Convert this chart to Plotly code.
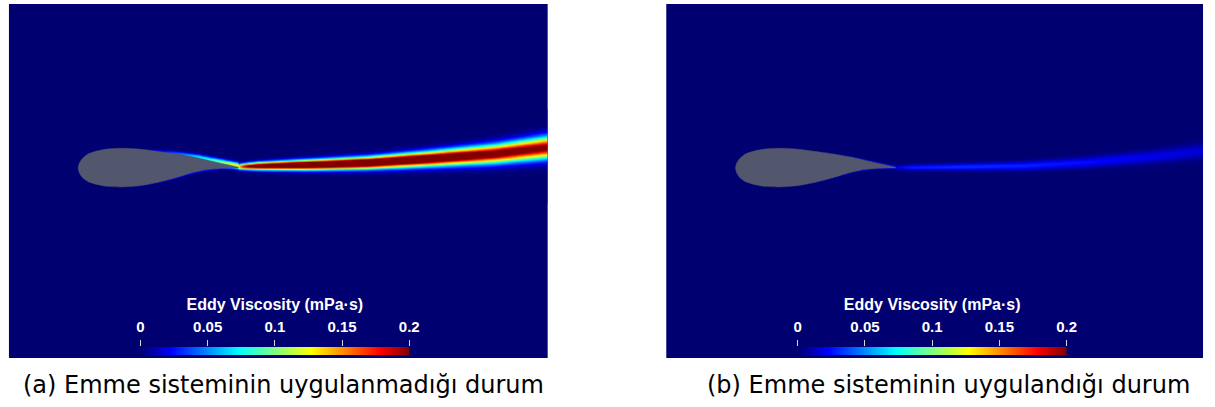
import numpy as np
import plotly.graph_objects as go

W, H = 1215, 407

# ---------------- data (chord units) ----------------
upper_x = [0.0, 0.01, 0.03, 0.06, 0.11, 0.18, 0.28, 0.38, 0.50, 0.62, 0.74, 0.86, 1.0]
upper_y = [0.0, 0.035, 0.062, 0.085, 0.103, 0.117, 0.122, 0.117, 0.102, 0.085, 0.064, 0.036, 0.004]
lower_x = [0.0, 0.01, 0.03, 0.06, 0.11, 0.18, 0.28, 0.38, 0.50, 0.60, 0.70, 0.80, 0.90, 1.0]
lower_y = [0.0, -0.035, -0.062, -0.083, -0.100, -0.113, -0.117, -0.110, -0.088, -0.062, -0.032, -0.010, -0.001, 0.002]

# panel (a): without suction -- wake (x station, centre, width, peak value in mPa·s)
wake_a_x = [1.00, 1.04, 1.12, 1.40, 1.80, 2.20, 2.60, 2.95]
wake_a_yc = [0.008, 0.010, 0.013, 0.019, 0.032, 0.058, 0.088, 0.130]
wake_a_w = [0.017, 0.019, 0.022, 0.028, 0.034, 0.043, 0.054, 0.065]
wake_a_peak = [0.14, 0.19, 0.24, 0.28, 0.28, 0.25, 0.22, 0.205]
# panel (a): boundary layers on upper / lower surface
blu_a_x = [0.40, 0.55, 0.70, 0.85, 0.95, 1.00]
blu_a_off = [0.0, 0.003, 0.005, 0.007, 0.008, 0.008]
blu_a_w = [0.007, 0.011, 0.015, 0.018, 0.019, 0.019]
blu_a_peak = [0.0, 0.03, 0.06, 0.09, 0.12, 0.14]
bll_a_x = [0.30, 0.60, 0.90, 1.00]
bll_a_off = [0.0, 0.0, 0.0, 0.0]
bll_a_w = [0.005, 0.006, 0.008, 0.010]
bll_a_peak = [0.0, 0.02, 0.03, 0.06]

# panel (b): with suction
wake_b_x = [1.00, 1.10, 1.40, 1.80, 2.20, 2.60, 2.95]
wake_b_yc = [0.002, 0.004, 0.007, 0.014, 0.036, 0.070, 0.110]
wake_b_w = [0.011, 0.016, 0.020, 0.025, 0.031, 0.038, 0.045]
wake_b_peak = [0.020, 0.028, 0.031, 0.029, 0.024, 0.019, 0.016]
blu_b_x = [0.50, 0.75, 0.95, 1.00]
blu_b_off = [0.0, 0.001, 0.002, 0.002]
blu_b_w = [0.005, 0.007, 0.009, 0.010]
blu_b_peak = [0.0, 0.008, 0.015, 0.02]
bll_b_x = [0.40, 0.70, 0.95, 1.00]
bll_b_off = [0.0, 0.0, 0.0, 0.0]
bll_b_w = [0.005, 0.006, 0.008, 0.010]
bll_b_peak = [0.0, 0.012, 0.018, 0.02]

cb_ticks = [0, 0.05, 0.1, 0.15, 0.2]
cb_labels = ["0", "0.05", "0.1", "0.15", "0.2"]
cb_title = "Eddy Viscosity (mPa·s)"
captions = ["(a) Emme sisteminin uygulanmadığı durum", "(b) Emme sisteminin uygulandığı durum"]

# ---------------- styling ----------------
NAVY = "rgb(0,0,112)"
jet = [[0.0, NAVY], [0.111, "rgb(0,0,255)"], [0.365, "rgb(0,255,255)"],
       [0.5, "rgb(128,255,128)"], [0.635, "rgb(255,255,0)"], [0.889, "rgb(255,0,0)"],
       [1.0, "rgb(128,0,0)"]]
FOIL = "#52576E"
CBFONT = "Liberation Sans, Arial"

gx = np.linspace(0.25, 2.96, 380)
gy = np.linspace(-0.22, 0.36, 310)
X, Y = np.meshgrid(gx, gy)


def up_surf(x):
    return np.interp(x, upper_x, upper_y)


def lo_surf(x):
    return np.interp(x, lower_x, lower_y)


def layer(xs, w, pk, yc=None, surf=None, off=None):
    xs = np.asarray(xs, float)
    inside = (X >= xs[0]) & (X <= xs[-1])
    if surf is None:
        c = np.interp(X, xs, yc)
    else:
        c = surf(X) + np.interp(X, xs, off)
    s = np.interp(X, xs, w)
    p = np.interp(X, xs, pk)
    return np.where(inside, p * np.exp(-((Y - c) / s) ** 2), 0.0)


Za = layer(wake_a_x, wake_a_w, wake_a_peak, yc=wake_a_yc)
Za = np.maximum(Za, layer(blu_a_x, blu_a_w, blu_a_peak, surf=up_surf, off=blu_a_off))
Za = np.maximum(Za, layer(bll_a_x, bll_a_w, bll_a_peak, surf=lo_surf, off=bll_a_off))
Zb = layer(wake_b_x, wake_b_w, wake_b_peak, yc=wake_b_yc)
Zb = np.maximum(Zb, layer(blu_b_x, blu_b_w, blu_b_peak, surf=up_surf, off=blu_b_off))
Zb = np.maximum(Zb, layer(bll_b_x, bll_b_w, bll_b_peak, surf=lo_surf, off=bll_b_off))
Za, Zb = np.round(Za, 4), np.round(Zb, 4)

foil_x = list(upper_x) + list(lower_x[::-1])
foil_y = list(upper_y) + list(lower_y[::-1])
cb_vals = np.linspace(cb_ticks[0], cb_ticks[-1], 201)

# panel pixel geometry
PX = 162.0  # pixels per chord
panels = [dict(l=5, r=550, t=4, b=358, le=75, cbl=138, cbr=410, cap=17),
          dict(l=670, r=1213, t=4, b=358, le=740, cbl=803, cbr=1075, cap=709)]
LE_Y = 168
CB_T, CB_B = 347, 355

fig = go.Figure()
for i, (pn, Z) in enumerate(zip(panels, [Za, Zb])):
    n = 2 * i + 1
    xa, ya = f"x{'' if n == 1 else n}", f"y{'' if n == 1 else n}"
    xc, yc = f"x{n + 1}", f"y{n + 1}"
    fig.add_trace(go.Heatmap(
        x=gx, y=gy, z=Z, zmin=0, zmax=0.2, zsmooth="best", colorscale=jet,
        xaxis=xa, yaxis=ya, hoverinfo="skip", showscale=False))
    fig.add_trace(go.Scatter(
        x=foil_x, y=foil_y, mode="lines", fill="toself", fillcolor=FOIL,
        line=dict(color=FOIL, width=0.5, shape="spline", smoothing=0.6),
        xaxis=xa, yaxis=ya, hoverinfo="skip", showlegend=False))
    # colour bar drawn as a heatmap on its own axis
    fig.add_trace(go.Heatmap(
        x=cb_vals, y=[0, 1], z=[cb_vals, cb_vals], zmin=0, zmax=0.2, zsmooth="best",
        colorscale=jet, xaxis=xc, yaxis=yc, hoverinfo="skip", showscale=False))

    ka = "" if n == 1 else str(n)
    xr = [(pn["l"] - pn["le"]) / PX, (pn["r"] - pn["le"]) / PX]
    yr = [(LE_Y - pn["b"]) / PX, (LE_Y - pn["t"]) / PX]
    fig.layout["xaxis" + ka] = dict(domain=[pn["l"] / W, pn["r"] / W], range=xr, anchor="y" + ka,
                                    visible=False, fixedrange=True)
    fig.layout["yaxis" + ka] = dict(domain=[(H - pn["b"]) / H, (H - pn["t"]) / H], range=yr,
                                    anchor="x" + ka, visible=False, fixedrange=True)
    kc = str(n + 1)
    fig.layout["xaxis" + kc] = dict(
        domain=[pn["cbl"] / W, pn["cbr"] / W], range=[cb_ticks[0], cb_ticks[-1]],
        anchor="y" + kc, side="top", tickmode="array", tickvals=cb_ticks, ticktext=cb_labels,
        ticks="outside", ticklen=6, tickwidth=1, tickcolor="#d8d8d8", ticklabelstandoff=2,
        showgrid=False, zeroline=False, showline=False, fixedrange=True,
        tickfont=dict(family=CBFONT, size=15, color="white", weight="bold"),
        title=dict(text=cb_title, standoff=3,
                   font=dict(family=CBFONT, size=16, color="white", weight="bold")))
    fig.layout["yaxis" + kc] = dict(domain=[(H - CB_B) / H, (H - CB_T) / H], range=[0, 1],
                                    anchor="x" + kc, visible=False, fixedrange=True)

    fig.add_shape(type="rect", xref="paper", yref="paper",
                  x0=pn["l"] / W, x1=pn["r"] / W, y0=(H - pn["b"]) / H, y1=(H - pn["t"]) / H,
                  fillcolor=NAVY, line=dict(width=0), layer="below")
    fig.add_annotation(text=captions[i], xref="paper", yref="paper",
                       x=pn["cap"] / W, y=(H - 385) / H,
                       xanchor="left", yanchor="middle", showarrow=False,
                       font=dict(family="DejaVu Sans", size=24, color="black"))

fig.update_layout(width=W, height=H, margin=dict(l=0, r=0, t=0, b=0),
                  paper_bgcolor="white", plot_bgcolor="rgba(0,0,0,0)", showlegend=False)
fig.write_html("out.html", config=dict(displayModeBar=False))
